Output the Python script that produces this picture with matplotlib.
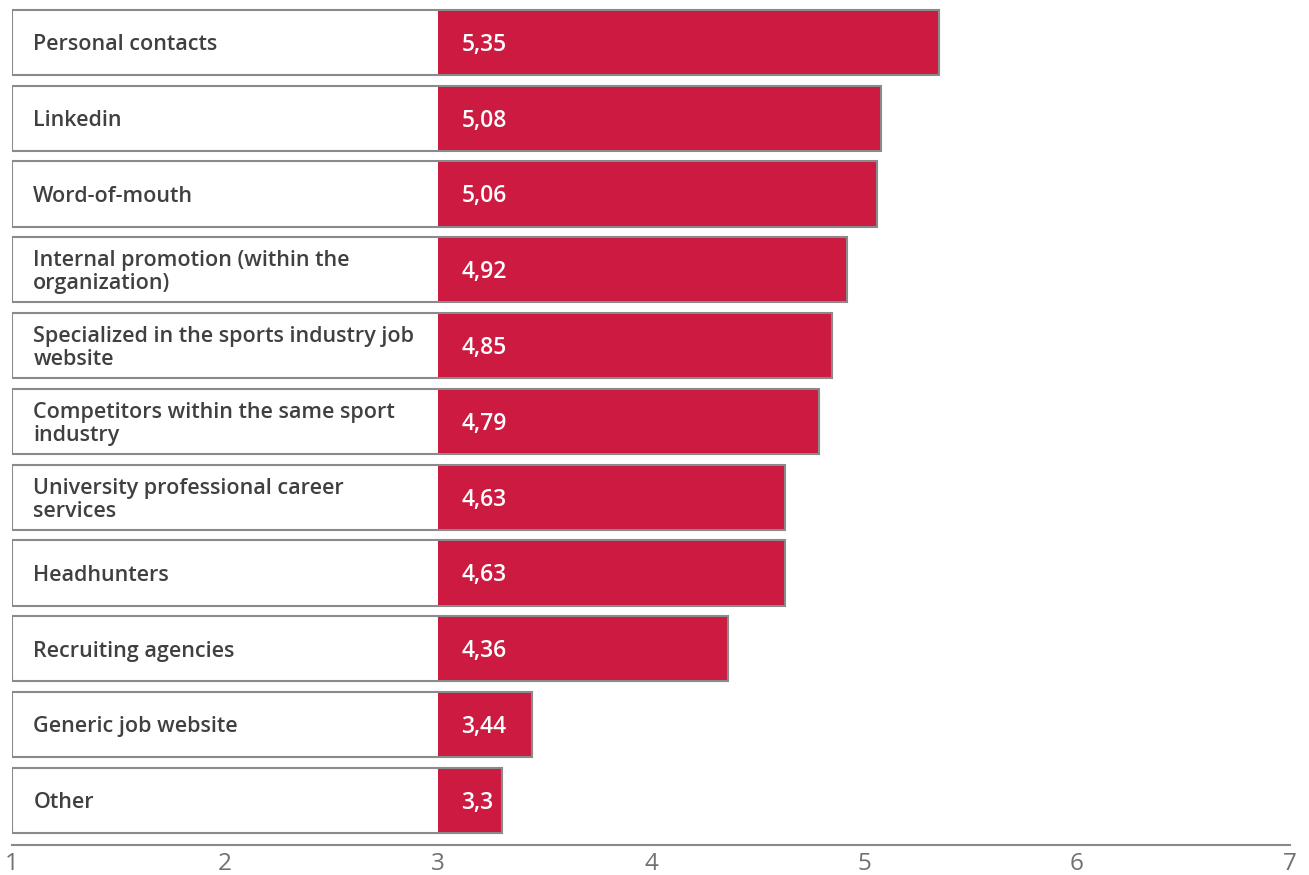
import matplotlib.pyplot as plt

categories = [
    "Personal contacts",
    "Linkedin",
    "Word-of-mouth",
    "Internal promotion (within the\norganization)",
    "Specialized in the sports industry job\nwebsite",
    "Competitors within the same sport\nindustry",
    "University professional career\nservices",
    "Headhunters",
    "Recruiting agencies",
    "Generic job website",
    "Other",
]
values = [5.35, 5.08, 5.06, 4.92, 4.85, 4.79, 4.63, 4.63, 4.36, 3.44, 3.3]
value_labels = ["5,35", "5,08", "5,06", "4,92", "4,85", "4,79", "4,63", "4,63", "4,36", "3,44", "3,3"]
ticks = [1, 2, 3, 4, 5, 6, 7]

RED = "#cc1a40"
EDGE = "#8a8a8a"
TEXT = "#404040"

plt.rcParams['font.family'] = ['Open Sans', 'DejaVu Sans']

fig = plt.figure(figsize=(13.09, 8.75), dpi=100)
ax = fig.add_axes([12 / 1309, 30 / 875, (1290 - 12) / 1309, 845 / 875])

ypos = list(range(len(categories)))
h = 0.86

# red part from 3 to value
ax.barh(ypos, [v - 3 for v in values], left=3, height=h, color=RED, zorder=2)
# outline box from 1 to value
ax.barh(ypos, [v - 1 for v in values], left=1, height=h, facecolor="none",
        edgecolor=EDGE, linewidth=1.5, zorder=3)

for y, cat, lab in zip(ypos, categories, value_labels):
    ax.text(1.1, y + 0.03, cat, va="center", ha="left", fontsize=15.5, fontweight=600,
            color=TEXT, linespacing=1.12, zorder=4)
    ax.text(3.11, y + 0.03, lab, va="center", ha="left", fontsize=16.5, fontweight=600,
            color="white", zorder=4)

ax.set_xlim(1, 7)
ax.set_ylim(len(categories) - 1 + 0.587, -0.56)
ax.set_xticks(ticks)
ax.set_xticklabels([str(t) for t in ticks], fontsize=17.5, color="#707070")
ax.tick_params(axis="x", length=0, pad=5)
ax.set_yticks([])
for s in ["top", "right", "left"]:
    ax.spines[s].set_visible(False)
ax.spines["bottom"].set_color(EDGE)
ax.spines["bottom"].set_linewidth(1.5)

fig.savefig("out.png", dpi=100)
